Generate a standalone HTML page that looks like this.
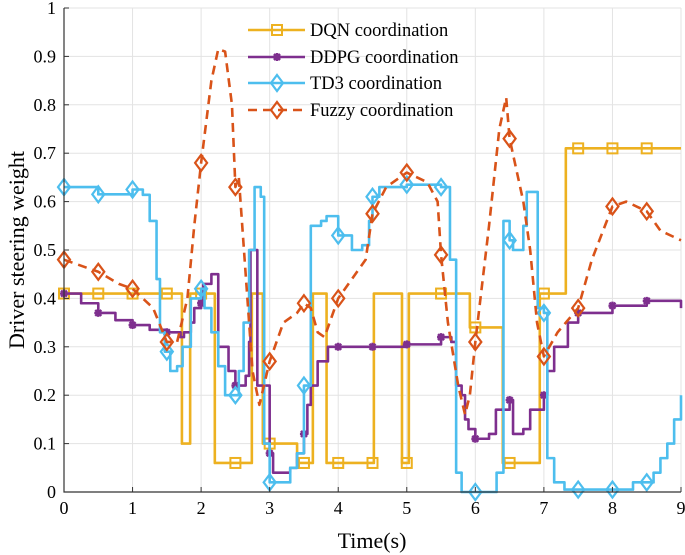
<!DOCTYPE html>
<html><head><meta charset="utf-8"><style>
body{margin:0;background:#fff}
svg{display:block;font-family:"Liberation Serif",serif}
</style></head><body>
<svg id="chart" width="685" height="555">
<g id="grid"></g>
<g id="series"></g>
<g id="axes"></g>
<text x="-250" y="24" transform="rotate(-90)" text-anchor="middle" font-size="22">Driver steering weight</text>
<text x="372" y="548" text-anchor="middle" font-size="22">Time(s)</text>
<g id="legend"></g>
</svg>
<script>
const xTicks=[0,1,2,3,4,5,6,7,8,9];
const yTicks=[0,0.1,0.2,0.3,0.4,0.5,0.6,0.7,0.8,0.9,1];
const yTickLabels=["0","0.1","0.2","0.3","0.4","0.5","0.6","0.7","0.8","0.9","1"];
const markerTimes=[0,0.5,1,1.5,2,2.5,3,3.5,4,4.5,5,5.5,6,6.5,7,7.5,8,8.5];
const dqnT=[0,1.72,1.84,2.2,2.74,2.9,3.4,3.63,3.83,4.52,4.93,5.03,5.92,6.4,6.94,7.32,9];
const dqnV=[0.41,0.1,0.41,0.06,0.41,0.1,0.06,0.41,0.06,0.41,0.06,0.41,0.34,0.06,0.41,0.71,0.71];
const ddpgT=[0,0.25,0.5,0.75,1,1.25,1.5,1.7,1.75,1.85,1.9,2.0,2.03,2.15,2.25,2.35,2.4,2.5,2.65,2.7,2.72,2.78,2.82,2.95,3.0,3.05,3.2,3.3,3.4,3.5,3.55,3.6,3.7,3.85,4.0,4.5,5.0,5.5,5.65,5.72,5.8,5.85,5.9,6.0,6.2,6.3,6.5,6.55,6.7,6.8,7.0,7.05,7.15,7.35,7.5,8,8.5,9];
const ddpgV=[0.41,0.39,0.37,0.355,0.345,0.335,0.33,0.32,0.33,0.35,0.38,0.39,0.43,0.45,0.3,0.3,0.25,0.22,0.24,0.31,0.5,0.5,0.22,0.22,0.08,0.04,0.04,0.05,0.08,0.12,0.18,0.22,0.27,0.3,0.3,0.3,0.305,0.32,0.31,0.22,0.2,0.15,0.13,0.11,0.12,0.17,0.19,0.12,0.13,0.17,0.2,0.25,0.3,0.35,0.37,0.385,0.395,0.38];
const td3T=[0,0.5,1.0,1.15,1.25,1.35,1.4,1.47,1.55,1.65,1.73,1.85,2.0,2.05,2.15,2.25,2.35,2.55,2.62,2.7,2.78,2.87,2.92,3.0,3.15,3.3,3.4,3.5,3.6,3.75,3.83,4.0,4.2,4.35,4.45,4.5,4.6,5.0,5.5,5.63,5.72,5.8,6.31,6.41,6.5,6.55,6.7,6.75,6.91,7.0,7.05,7.15,7.3,8.0,8.3,8.6,8.7,8.8,8.9,9];
const td3V=[0.63,0.615,0.625,0.614,0.56,0.44,0.33,0.29,0.25,0.26,0.3,0.4,0.42,0.38,0.33,0.26,0.2,0.25,0.35,0.5,0.63,0.61,0.1,0.02,0.02,0.05,0.08,0.22,0.55,0.56,0.57,0.53,0.5,0.51,0.56,0.61,0.63,0.635,0.63,0.48,0.04,0.0,0.04,0.56,0.52,0.5,0.55,0.62,0.38,0.37,0.07,0.02,0.005,0.005,0.02,0.04,0.07,0.1,0.15,0.2];
const fuzzyT=[0,0.5,0.8,1.0,1.3,1.5,1.65,1.8,1.9,2.0,2.15,2.25,2.35,2.45,2.5,2.55,2.65,2.75,2.85,3.0,3.2,3.4,3.5,3.6,3.7,3.8,4.0,4.2,4.4,4.5,4.7,5.0,5.3,5.45,5.5,5.6,5.75,5.85,5.92,6.0,6.2,6.35,6.45,6.5,6.7,6.8,6.9,7.0,7.2,7.5,7.7,8.0,8.2,8.5,8.7,9];
const fuzzyV=[0.48,0.455,0.43,0.42,0.38,0.31,0.31,0.4,0.55,0.68,0.85,0.915,0.91,0.8,0.63,0.65,0.45,0.25,0.18,0.27,0.35,0.37,0.39,0.38,0.33,0.32,0.4,0.44,0.48,0.575,0.63,0.66,0.64,0.6,0.49,0.35,0.22,0.16,0.2,0.31,0.55,0.75,0.815,0.73,0.6,0.5,0.35,0.28,0.33,0.38,0.48,0.59,0.6,0.58,0.54,0.52];

const X0=64,X1=681,Y0=492,Y1=8,NS="http://www.w3.org/2000/svg";
const sx=t=>X0+t*(X1-X0)/9, sy=v=>Y0-v*(Y0-Y1);
function mk(tag,a,p){const e=document.createElementNS(NS,tag);for(const k in a)e.setAttribute(k,a[k]);p.appendChild(e);return e;}
const grid=document.getElementById('grid'),axes=document.getElementById('axes'),ser=document.getElementById('series'),leg=document.getElementById('legend');
xTicks.forEach(t=>{
  const l=mk('line',{x1:sx(t),x2:sx(t),y1:Y1,y2:Y0,stroke:'#e3e3e3','stroke-width':1},grid);
  
  
  const k=mk('line',{x1:sx(t),x2:sx(t),y1:Y0,y2:Y0-5,stroke:'#333'},axes);
  
  
  const tx=mk('text',{x:sx(t),y:514,'text-anchor':'middle','font-size':18},axes);tx.textContent=t;
  
  
});
yTicks.forEach((v,i)=>{
  const l=mk('line',{x1:X0,x2:X1,y1:sy(v),y2:sy(v),stroke:'#e3e3e3','stroke-width':1},grid);
  
  
  const k=mk('line',{x1:X0,x2:X0+5,y1:sy(v),y2:sy(v),stroke:'#333'},axes);
  
  
  const tx=mk('text',{x:X0-8,y:sy(v)+6,'text-anchor':'end','font-size':18},axes);tx.textContent=yTickLabels[i];
  
  
});
const ax=mk('path',{d:`M${X0},${Y1}V${Y0}H${X1}`,fill:'none',stroke:'#333','stroke-width':1.2},axes);



function stepPts(T,V){let p=[];for(let i=0;i<T.length;i++){if(i>0)p.push([sx(T[i]),sy(V[i-1])]);p.push([sx(T[i]),sy(V[i])]);}return p;}
function linPts(T,V){return T.map((t,i)=>[sx(t),sy(V[i])]);}
function valStep(T,V,t){let v=V[0];for(let i=0;i<T.length;i++){if(T[i]<=t)v=V[i];}return v;}
function valLin(T,V,t){for(let i=1;i<T.length;i++){if(t<=T[i]){const f=(t-T[i-1])/(T[i]-T[i-1]);return V[i-1]+f*(V[i]-V[i-1]);}}return V[V.length-1];}
function marker(type,x,y,c,g){
  let e;
  if(type==='sq')e=mk('rect',{x:x-5,y:y-5,width:10,height:10,fill:'none',stroke:c,'stroke-width':2},g);
  else if(type==='dia')e=mk('path',{d:`M${x},${y-8}L${x+6},${y}L${x},${y+8}L${x-6},${y}Z`,fill:'none',stroke:c,'stroke-width':2.2},g);
  else e=mk('path',{d:`M${x-4},${y}H${x+4}M${x},${y-4}V${y+4}M${x-3},${y-3}L${x+3},${y+3}M${x-3},${y+3}L${x+3},${y-3}`,stroke:c,'stroke-width':2.4},g);
  return e;
}
const defs=[
 {n:'dqn',T:dqnT,V:dqnV,c:'#EDB120',m:'sq',step:true,dash:null,label:'DQN coordination'},
 {n:'ddpg',T:ddpgT,V:ddpgV,c:'#7E2F8E',m:'star',step:true,dash:null,label:'DDPG coordination'},
 {n:'td3',T:td3T,V:td3V,c:'#4DBEEE',m:'dia',step:true,dash:null,label:'TD3 coordination'},
 {n:'fuzzy',T:fuzzyT,V:fuzzyV,c:'#D95319',m:'dia',step:false,dash:'9,6',label:'Fuzzy coordination'}];
defs.forEach(d=>{
  const g=mk('g',{},ser);
  
  
  const pts=(d.step?stepPts(d.T,d.V):linPts(d.T,d.V)).map(p=>p.join(',')).join(' ');
  const a={points:pts,fill:'none',stroke:d.c,'stroke-width':2.6,'stroke-linejoin':'round'};if(d.dash)a['stroke-dasharray']=d.dash;
  const pl=mk('polyline',a,g);
  
  
  markerTimes.forEach(t=>{
    const v=d.step?valStep(d.T,d.V,t):valLin(d.T,d.V,t);
    const e=marker(d.m,sx(t),sy(v),d.c,g);
    
    
  });
});
const ly=[30,57,83,110];
defs.forEach((d,i)=>{
  const g=mk('g',{},leg);
  
  
  const a={x1:248,x2:305,y1:ly[i],y2:ly[i],stroke:d.c,'stroke-width':2.6};if(d.dash)a['stroke-dasharray']=d.dash;
  mk('line',a,g);
  marker(d.m,277,ly[i],d.c,g);
  const t=mk('text',{x:310,y:ly[i]+6,'font-size':18.5},g);t.textContent=d.label;
});
</script>
</body></html>
